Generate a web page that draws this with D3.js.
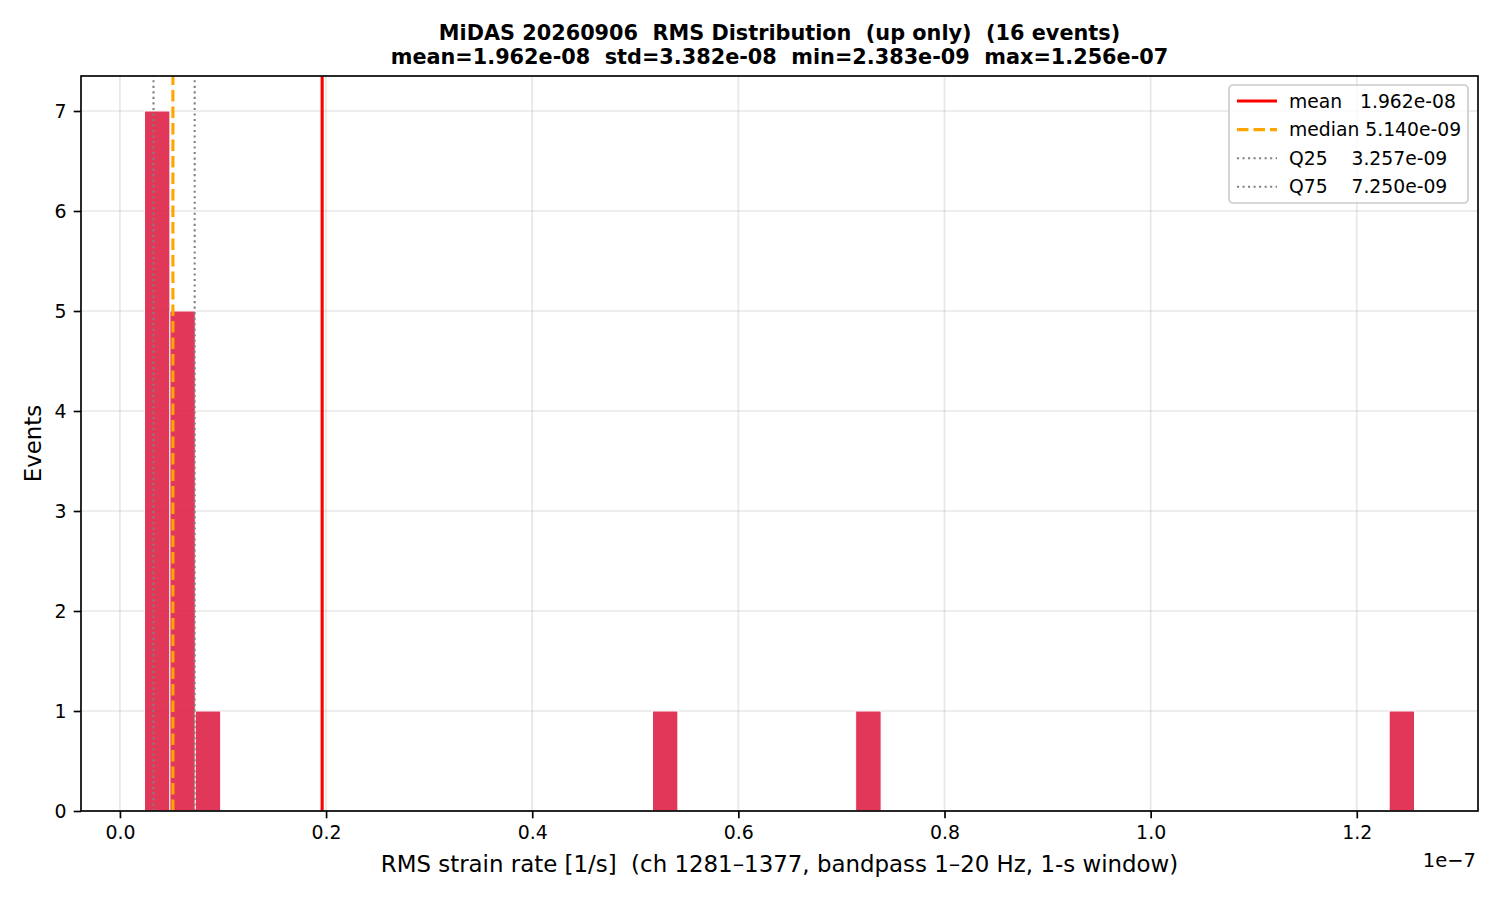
<!DOCTYPE html>
<html>
<head>
<meta charset="utf-8">
<script src="https://cdn.jsdelivr.net/npm/d3@7"></script>
<style>
  html, body { margin: 0; padding: 0; background: #fff; }
  svg text { font-family: "DejaVu Sans", sans-serif; white-space: pre; }
</style>
</head>
<body>
<svg id="chart" width="1500" height="900"></svg>
<script>
// ---- Data ----
const binLeft  = [2.383e-9, 4.847e-9, 7.312e-9, 5.167e-8, 7.138e-8, 1.2314e-7];
const binRight = [4.847e-9, 7.312e-9, 9.776e-9, 5.413e-8, 7.385e-8, 1.2560e-7];
const binCount = [7, 5, 1, 1, 1, 1];

const statNames  = ["mean", "median", "Q25", "Q75"];
const statValues = [1.962e-8, 5.140e-9, 3.257e-9, 7.250e-9];
const statLabels = ["mean   1.962e-08", "median 5.140e-09", "Q25    3.257e-09", "Q75    7.250e-09"];

const xTicks = [0, 0.2e-7, 0.4e-7, 0.6e-7, 0.8e-7, 1.0e-7, 1.2e-7];
const yTicks = [0, 1, 2, 3, 4, 5, 6, 7];

const titleLines = [
  "MiDAS 20260906  RMS Distribution  (up only)  (16 events)",
  "mean=1.962e-08  std=3.382e-08  min=2.383e-09  max=1.256e-07"
];
const xLabel = "RMS strain rate [1/s]  (ch 1281\u20131377, bandpass 1\u201320 Hz, 1-s window)";
const yLabel = "Events";

// ---- Layout ----
const L = 81, R = 1478, T = 76, B = 811;
const svg = d3.select("#chart");

const xMin = 2.383e-9, xMax = 1.256e-7, pad = (xMax - xMin) * 0.05;
const x = d3.scaleLinear().domain([xMin - pad, xMax + pad]).range([L, R]);
const y = d3.scaleLinear().domain([0, 7 * 1.05]).range([B, T]);

// grid
const grid = svg.append("g");
grid.selectAll("line.gx").data(xTicks).enter().append("line")
  .attr("x1", d => x(d)).attr("x2", d => x(d)).attr("y1", T).attr("y2", B)
  .attr("stroke", "#b0b0b0").attr("stroke-opacity", 0.3).attr("stroke-width", 1.67);
grid.selectAll("line.gy").data(yTicks).enter().append("line")
  .attr("y1", d => y(d)).attr("y2", d => y(d)).attr("x1", L).attr("x2", R)
  .attr("stroke", "#b0b0b0").attr("stroke-opacity", 0.3).attr("stroke-width", 1.67);

// bars
const bars = binCount.map((c, i) => ({ x0: binLeft[i], x1: binRight[i], c }));
svg.append("g").selectAll("rect").data(bars).enter().append("rect")
  .attr("x", d => x(d.x0)).attr("width", d => x(d.x1) - x(d.x0))
  .attr("y", d => y(d.c)).attr("height", d => y(0) - y(d.c))
  .attr("fill", "#dc143c").attr("fill-opacity", 0.85)
  .attr("stroke", "#ffffff").attr("stroke-width", 1);

// stat lines
const statStyle = [
  { color: "#ff0000", width: 3.1, dash: null },
  { color: "#ffa500", width: 3.1, dash: "11.5,5" },
  { color: "#808080", width: 2.08, dash: "2.08,3.44" },
  { color: "#808080", width: 2.08, dash: "2.08,3.44" }
];
svg.append("clipPath").attr("id", "axclip").append("rect")
  .attr("x", L).attr("y", T).attr("width", R - L).attr("height", B - T);
svg.append("g").attr("clip-path", "url(#axclip)").selectAll("line").data(statValues).enter().append("line")
  .attr("x1", d => x(d)).attr("x2", d => x(d)).attr("y1", B).attr("y2", T)
  .attr("stroke", (d, i) => statStyle[i].color)
  .attr("stroke-width", (d, i) => statStyle[i].width)
  .attr("stroke-dasharray", (d, i) => statStyle[i].dash);

// axes
const xAxis = d3.axisBottom(x).tickValues(xTicks).tickFormat(d => (d / 1e-7).toFixed(1))
  .tickSize(7.3).tickPadding(7.3);
const yAxis = d3.axisLeft(y).tickValues(yTicks).tickFormat(d3.format("d"))
  .tickSize(7.3).tickPadding(7.3);
const gx = svg.append("g").attr("transform", `translate(0,${B})`).call(xAxis);
const gy = svg.append("g").attr("transform", `translate(${L},0)`).call(yAxis);
[gx, gy].forEach(g => {
  g.select(".domain").remove();
  g.selectAll(".tick line").attr("stroke", "#000").attr("stroke-width", 1.67);
  g.selectAll(".tick text").attr("fill", "#000").style("font-size", "18.9px")
    .style("font-family", "DejaVu Sans");
});

// spines
svg.append("rect").attr("x", L).attr("y", T).attr("width", R - L).attr("height", B - T)
  .attr("fill", "none").attr("stroke", "#000").attr("stroke-width", 1.67);

// offset text
svg.append("text").attr("x", 1476).attr("y", 867).attr("text-anchor", "end")
  .style("font-size", "19.5px").text("1e\u22127");

// labels
svg.append("text").attr("x", (L + R) / 2).attr("y", 872).attr("text-anchor", "middle")
  .style("font-size", "22.9px").text(xLabel);
svg.append("text").attr("transform", `translate(41,${(T + B) / 2}) rotate(-90)`)
  .attr("text-anchor", "middle").style("font-size", "22.9px").text(yLabel);

// title
svg.append("g").selectAll("text").data(titleLines).enter().append("text")
  .attr("x", (L + R) / 2).attr("y", (d, i) => 40 + i * 23.5)
  .attr("text-anchor", "middle").style("font-size", "20.8px").style("font-weight", "bold")
  .text(d => d);

// legend
const lg = svg.append("g");
lg.append("rect").attr("x", 1229).attr("y", 85).attr("width", 239).attr("height", 118)
  .attr("rx", 4).attr("fill", "#fff").attr("fill-opacity", 0.8)
  .attr("stroke", "#cccccc").attr("stroke-width", 1.67);
const rows = lg.selectAll("g.row").data(statNames).enter().append("g")
  .attr("transform", (d, i) => `translate(0,${101 + i * 28.6})`);
rows.append("line").attr("x1", 1237).attr("x2", 1277).attr("y1", 0).attr("y2", 0)
  .attr("stroke", (d, i) => statStyle[i].color)
  .attr("stroke-width", (d, i) => i < 2 ? 3.1 : 2.08)
  .attr("stroke-dasharray", (d, i) => statStyle[i].dash);
rows.append("text").attr("x", 1289).attr("y", 6.5).style("font-size", "18.75px")
  .text((d, i) => statLabels[i]);
</script>
</body>
</html>
